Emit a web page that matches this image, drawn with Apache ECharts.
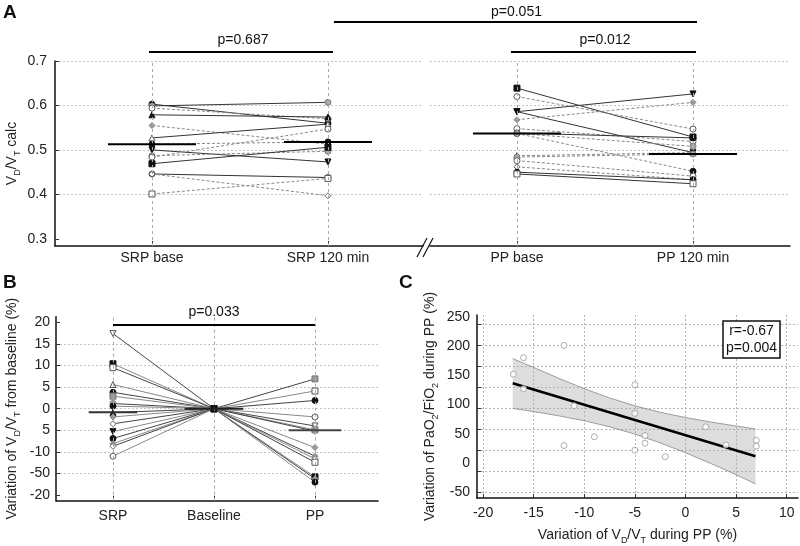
<!DOCTYPE html>
<html><head><meta charset="utf-8">
<script src="https://cdn.jsdelivr.net/npm/echarts@6/dist/echarts.min.js"></script>
<style>html,body{margin:0;padding:0;background:#fff}#c{width:800px;height:546px}</style>
</head><body><div id="c"></div>
<script>
// ---------- Panel A data ----------
const aCategoriesSRP = ['SRP base', 'SRP 120 min'];
const aCategoriesPP = ['PP base', 'PP 120 min'];
const aYLabels = [0.3, 0.4, 0.5, 0.6, 0.7];
const srpBase = [0.603, 0.599, 0.594, 0.579, 0.555, 0.527, 0.513, 0.500, 0.487, 0.484, 0.469, 0.446, 0.446, 0.401];
const srp120  = [0.560, 0.607, 0.570, 0.574, 0.513, 0.558, 0.518, 0.473, 0.497, 0.547, 0.506, 0.438, 0.397, 0.436];
const srpMarkers = ['fc','gc','oc','ft','x','ot','fc','fd','gc','oc','fs','oc','odia','os'];
const srpDashed  = [0,0,1,0,1,0,1,0,1,1,0,0,1,1];
const ppBase = [0.639, 0.620, 0.586, 0.586, 0.568, 0.548, 0.538, 0.537, 0.537, 0.487, 0.484, 0.476, 0.462, 0.450, 0.446];
const pp120  = [0.529, 0.547, 0.626, 0.494, 0.607, 0.519, 0.527, 0.452, 0.508, 0.494, 0.491, 0.441, 0.433, 0.433, 0.424];
const ppMarkers = ['fs','oc','fd','fd','x','oc','fc','fc','gc','ft','gc','oc','odia','fc','os'];
const ppDashed  = [0,1,0,0,1,1,0,1,1,1,1,1,1,0,0];
const aMeansSRP = [0.513, 0.518];
const aMeansPP = [0.537, 0.491];
const aPTexts = ['p=0.687', 'p=0.012', 'p=0.051'];

// ---------- Panel B data ----------
const bCategories = ['SRP', 'Baseline', 'PP'];
const bYTickValues = [-20, -15, -10, -5, 0, 5, 10, 15, 20];
const bYTickLabels = ['-20', '-50', '-10', '5', '0', '5', '10', '15', '20'];
const bSRP = [17.4, 10.4, 9.5, 5.6, 3.8, 2.9, 1.2, 0.6, -0.9, -1.9, -3.5, -5.3, -6.9, -8.1, -8.7, -11.0];
const bSRPMarkers = ['od','fs','os','ot','fc','gs','gc','fc','ft','x','odia','fd','fc','x','odia','oc'];
const bPP = [6.9, 4.1, 1.9, -1.9, -4.0, -4.9, -5.2, -9.0, -11.0, -11.6, -12.4, -15.8, -16.2, -17.0];
const bPPMarkers = ['gs','os','fc','oc','od','gs','x','x','x','odia','os','fs','x','fc'];
const bMeans = [-0.8, 0, -5.0];
const bPText = 'p=0.033';
const bPBarValue = 19.5;

// ---------- Panel C data ----------
const cX = [-12, -16, -17, -16, -11, -5, -5, -9, -12, -4, -4, -5, -2, 2, 4, 7, 7];
const cY = [201, 180, 152, 127, 98, 134, 85, 45, 30, 47, 34, 22, 11, 62, 31, 39, 29];
const cFitX = [-17.07, 6.92];
const cFitY = [136.4, 11.8];
const cBandX = [-17.07, -15, -12.5, -10, -7.5, -5, -2.5, 0, 2.5, 5, 6.92];
const cBandUpper = [178.6, 163.4, 144.7, 127.1, 111.3, 97.8, 86.8, 77.9, 70.2, 63.3, 58.3];
const cBandLower = [93.4, 88.0, 80.7, 72.3, 62.1, 49.6, 34.6, 17.7, -0.6, -19.7, -35.5];
const cXTicks = [-20, -15, -10, -5, 0, 5, 10];
const cYTicks = [-50, 0, 50, 100, 150, 200, 250];
const cGridRowValues = [-50, -14.1, 21.9, 57.8, 93.7, 129.7, 165.6, 201.5, 237.4];
const cStats = ['r=-0.67', 'p=0.004'];
const cXRange = [-20.6, 11.12];
const cYRange = [-59.6, 253];

// ---------- helpers ----------
const FONT = "'Liberation Sans', Arial, sans-serif";
const NARROW = "'Liberation Sans Narrow', 'Liberation Sans', Arial, sans-serif";
const DOWN = 'path://M0,0 L10,0 L5,9 Z';
function marker(kind) {
  const m = {
    fc: ['circle', '#111', '#111'], oc: ['circle', '#fff', '#555'], gc: ['circle', '#aaa', '#777'],
    fs: ['rect', '#111', '#111'], os: ['rect', '#fff', '#555'], gs: ['rect', '#999', '#777'],
    ft: ['triangle', '#111', '#111'], ot: ['triangle', '#fff', '#555'],
    fd: [DOWN, '#111', '#111'], od: [DOWN, '#fff', '#555'],
    x: ['diamond', '#999', '#888'], odia: ['diamond', '#fff', '#666']
  }[kind];
  return { symbol: m[0], itemStyle: { color: m[1], borderColor: m[2], borderWidth: 1 } };
}
function pairSeries(xi, yi, a, b, kind, dashed) {
  const mk = marker(kind);
  return {
    type: 'line', xAxisIndex: xi, yAxisIndex: yi, data: [[0, a], [1, b]],
    symbol: mk.symbol, symbolSize: 6, itemStyle: mk.itemStyle, z: 3,
    lineStyle: dashed ? { color: '#888', width: 1, type: [3, 2] } : { color: '#333', width: 1 },
    silent: true
  };
}
function meanSeries(xi, yi, x, m, half, color) {
  return {
    type: 'line', xAxisIndex: xi, yAxisIndex: yi, data: [[x - half, m], [x + half, m]],
    symbol: 'none', lineStyle: { color: color || '#000', width: 2 }, z: 5, silent: true
  };
}
function refLines(xi, yi, vals) {
  return {
    type: 'line', xAxisIndex: xi, yAxisIndex: yi, data: [], silent: true,
    markLine: {
      silent: true, symbol: ['none', 'none'], label: { show: false },
      lineStyle: { color: '#aaa', width: 1, type: [3, 3] },
      data: vals.map(v => ({ xAxis: v }))
    }
  };
}
const gridStyle = { color: '#c4c4c4', width: 1, type: [2, 2] };
const gridLine = { show: true, lineStyle: gridStyle };
const cGridLine = { show: true, lineStyle: { color: '#b4b4b4', width: 1, type: [2, 2] } };
const sub = { fontSize: 9, verticalAlign: 'bottom' };
const axisLineStyle = { show: true, onZero: false, lineStyle: { color: '#111', width: 1.5 } };

const series = [];
series.push(refLines(0, 0, [0, 1]));
series.push(refLines(1, 1, [0, 1]));
series.push(refLines(2, 2, [0, 1, 2]));

srpBase.forEach((v, i) => series.push(pairSeries(0, 0, v, srp120[i], srpMarkers[i], srpDashed[i])));
ppBase.forEach((v, i) => series.push(pairSeries(1, 1, v, pp120[i], ppMarkers[i], ppDashed[i])));
aMeansSRP.forEach((m, i) => series.push(meanSeries(0, 0, i, m, 0.25)));
aMeansPP.forEach((m, i) => series.push(meanSeries(1, 1, i, m, 0.25)));

// Panel B segments
bSRP.forEach((v, i) => {
  const mk = marker(bSRPMarkers[i]);
  series.push({ type: 'line', xAxisIndex: 2, yAxisIndex: 2, data: [[0, v], [1, 0]], symbol: mk.symbol, symbolSize: 6,
    itemStyle: mk.itemStyle, lineStyle: { color: i % 2 ? '#888' : '#444', width: 1 }, z: 3, silent: true });
});
bPP.forEach((v, i) => {
  const mk = marker(bPPMarkers[i]);
  series.push({ type: 'line', xAxisIndex: 2, yAxisIndex: 2, data: [[1, 0], [2, v]], symbol: mk.symbol, symbolSize: 6,
    itemStyle: mk.itemStyle, lineStyle: { color: i % 2 ? '#888' : '#444', width: 1 }, z: 3, silent: true });
});
series.push(meanSeries(2, 2, 0, bMeans[0], 0.24, '#333'));
series.push(meanSeries(2, 2, 1, bMeans[1], 0.29, '#222'));
series.push(meanSeries(2, 2, 2, bMeans[2], 0.26, '#444'));
series.push({
  type: 'line', xAxisIndex: 2, yAxisIndex: 2, data: [], silent: true,
  markLine: {
    silent: true, symbol: ['none', 'none'],
    lineStyle: { color: '#000', width: 2, type: 'solid' },
    label: { show: true, position: 'middle', formatter: bPText, fontSize: 14, color: '#111', fontFamily: NARROW, distance: 5 },
    data: [[{ coord: [0, bPBarValue] }, { coord: [2, bPBarValue] }]]
  }
});

// Panel C
series.push({
  type: 'custom', xAxisIndex: 3, yAxisIndex: 3, silent: true, z: 1,
  data: cBandX.map((x, i) => [x, cBandLower[i], cBandUpper[i]]),
  encode: { x: 0, y: [1, 2] },
  renderItem: (params, api) => {
    if (params.dataIndex !== 0) return null;
    const pts = [];
    cBandX.forEach((x, i) => pts.push(api.coord([x, cBandUpper[i]])));
    for (let i = cBandX.length - 1; i >= 0; i--) pts.push(api.coord([cBandX[i], cBandLower[i]]));
    return { type: 'polygon', shape: { points: pts }, style: { fill: 'rgba(170,170,170,0.4)', stroke: null } };
  }
});
series.push({ type: 'line', xAxisIndex: 3, yAxisIndex: 3, data: cBandX.map((x, i) => [x, cBandUpper[i]]),
  symbol: 'none', lineStyle: { color: '#888', width: 0.8 }, z: 2, silent: true });
series.push({ type: 'line', xAxisIndex: 3, yAxisIndex: 3, data: cBandX.map((x, i) => [x, cBandLower[i]]),
  symbol: 'none', lineStyle: { color: '#888', width: 0.8 }, z: 2, silent: true });
series.push({ type: 'line', xAxisIndex: 3, yAxisIndex: 3, data: cFitX.map((x, i) => [x, cFitY[i]]),
  symbol: 'none', lineStyle: { color: '#000', width: 2.5 }, z: 4, silent: true });
series.push({ type: 'scatter', xAxisIndex: 3, yAxisIndex: 3, data: cX.map((x, i) => [x, cY[i]]),
  symbol: 'circle', symbolSize: 6, itemStyle: { color: '#fff', borderColor: '#999', borderWidth: 1 }, z: 5, silent: true });

const labelStyle = { fontSize: 14, color: '#222', fontFamily: FONT };
const option = {
  animation: false,
  textStyle: { fontFamily: FONT },
  grid: [
    { left: 55, top: 61, width: 368, height: 185 },
    { left: 430, top: 61, width: 360, height: 185 },
    { left: 56, top: 316.7, width: 322, height: 184 },
    { left: 477, top: 315, width: 321, height: 185.7 }
  ],
  xAxis: [
    { gridIndex: 0, type: 'value', min: -0.551, max: 1.540, splitLine: { show: false },
      axisLine: axisLineStyle,
      axisTick: { inside: true, length: 5, customValues: [0, 1], lineStyle: { color: '#333' } },
      axisLabel: Object.assign({ customValues: [0, 1], formatter: v => aCategoriesSRP[Math.round(v)], margin: 5 }, labelStyle) },
    { gridIndex: 1, type: 'value', min: -0.494, max: 1.551, splitLine: { show: false },
      axisLine: axisLineStyle,
      axisTick: { inside: true, length: 5, customValues: [0, 1], lineStyle: { color: '#333' } },
      axisLabel: Object.assign({ customValues: [0, 1], formatter: v => aCategoriesPP[Math.round(v)], margin: 5 }, labelStyle) },
    { gridIndex: 2, type: 'value', min: -0.564, max: 2.624, splitLine: { show: false },
      axisLine: axisLineStyle,
      axisTick: { inside: true, length: 5, customValues: [0, 1, 2], lineStyle: { color: '#333' } },
      axisLabel: Object.assign({ customValues: [0, 1, 2], formatter: v => bCategories[Math.round(v)], margin: 8 }, labelStyle) },
    { gridIndex: 3, type: 'value', min: cXRange[0], max: cXRange[1],
      splitLine: cGridLine,
      axisLine: axisLineStyle,
      axisTick: { inside: true, length: 4, customValues: cXTicks, lineStyle: { color: '#333' } },
      axisLabel: Object.assign({ customValues: cXTicks, margin: 8 }, labelStyle),
      name: 'Variation of V{s|D}/V{s|T} during PP (%)', nameLocation: 'middle', nameGap: 27,
      nameTextStyle: { fontSize: 14, color: '#222', lineHeight: 20, rich: { s: sub } } }
  ],
  yAxis: [
    { gridIndex: 0, type: 'value', min: 0.284, max: 0.7,
      splitLine: Object.assign({ showMinLine: false }, gridLine),
      axisLine: axisLineStyle,
      axisTick: { show: true, inside: true, length: 4, customValues: aYLabels, lineStyle: { color: '#333' } },
      axisLabel: Object.assign({ customValues: aYLabels, formatter: v => v.toFixed(1), margin: 8 }, labelStyle),
      name: 'V{s|D}/V{s|T} calc', nameLocation: 'middle', nameGap: 33,
      nameTextStyle: { fontSize: 14, color: '#222', lineHeight: 20, rich: { s: sub } } },
    { gridIndex: 1, type: 'value', min: 0.284, max: 0.7,
      splitLine: Object.assign({ showMinLine: false }, gridLine),
      axisLine: { show: false, onZero: false }, axisTick: { show: false, customValues: aYLabels }, axisLabel: { show: false, customValues: aYLabels } },
    { gridIndex: 2, type: 'value', min: -21.3, max: 21.3, splitNumber: 8,
      splitLine: Object.assign({ showMinLine: false, showMaxLine: false }, gridLine),
      axisLine: axisLineStyle,
      axisTick: { show: true, inside: true, length: 4, customValues: bYTickValues, lineStyle: { color: '#333' } },
      axisLabel: Object.assign({ customValues: bYTickValues, formatter: v => bYTickLabels[bYTickValues.indexOf(v)], margin: 6 }, labelStyle),
      name: 'Variation of V{s|D}/V{s|T} from baseline (%)', nameLocation: 'middle', nameGap: 34,
      nameTextStyle: { fontSize: 14, color: '#222', lineHeight: 20, rich: { s: sub } } },
    { gridIndex: 3, type: 'value', min: cYRange[0], max: cYRange[1],
      splitLine: cGridLine,
      axisLine: axisLineStyle,
      axisTick: { show: true, inside: true, length: 4, customValues: cGridRowValues, lineStyle: { color: '#333' } },
      axisLabel: Object.assign({ customValues: cYTicks, margin: 7 }, labelStyle),
      name: 'Variation of PaO{s|2}/FiO{s|2} during PP (%)', nameLocation: 'middle', nameGap: 37,
      nameTextStyle: { fontSize: 14, color: '#222', lineHeight: 20, rich: { s: sub } } }
  ],
  series: series
};

const chart = echarts.init(document.getElementById('c'), null, { renderer: 'canvas' });
chart.setOption(option);

const px = (xi, yi, v) => chart.convertToPixel({ xAxisIndex: xi, yAxisIndex: yi }, v);
const s0 = px(0, 0, [0, 0.5])[0], s1 = px(0, 0, [1, 0.5])[0];
const p0 = px(1, 1, [0, 0.5])[0], p1 = px(1, 1, [1, 0.5])[0];
const pStyle = { fontSize: 14, fill: '#111', fontFamily: NARROW, align: 'center', verticalAlign: 'middle' };
const hline = (x1, x2, y) => ({ type: 'line', shape: { x1: x1, y1: y, x2: x2, y2: y }, style: { stroke: '#000', lineWidth: 2 } });
chart.setOption({
  graphic: [
    { type: 'text', left: 3, top: 3, style: { text: 'A', fontSize: 19, fontWeight: 'bold', fill: '#111', fontFamily: NARROW } },
    { type: 'text', left: 3, top: 273, style: { text: 'B', fontSize: 19, fontWeight: 'bold', fill: '#111', fontFamily: NARROW } },
    { type: 'text', left: 399, top: 273, style: { text: 'C', fontSize: 19, fontWeight: 'bold', fill: '#111', fontFamily: NARROW } },
    hline(s0 - 3, s1 + 5, 52),
    hline(p0 - 6, p1 + 3, 52),
    hline(s1 + 6, p1 + 4, 22),
    { type: 'text', x: (s0 + s1) / 2 + 3, y: 40, style: Object.assign({ text: aPTexts[0] }, pStyle) },
    { type: 'text', x: (p0 + p1) / 2, y: 40, style: Object.assign({ text: aPTexts[1] }, pStyle) },
    { type: 'text', x: (s1 + p1) / 2 + 6, y: 12, style: Object.assign({ text: aPTexts[2] }, pStyle) },
    { type: 'line', shape: { x1: 417, y1: 257, x2: 427, y2: 238 }, style: { stroke: '#111', lineWidth: 1.2 } },
    { type: 'line', shape: { x1: 423, y1: 257, x2: 433, y2: 238 }, style: { stroke: '#111', lineWidth: 1.2 } },
    { type: 'rect', shape: { x: 723, y: 321, width: 57, height: 37 }, style: { fill: '#fff', stroke: '#111', lineWidth: 1.5 }, z: 100 },
    { type: 'text', x: 751.5, y: 331, z: 101, style: Object.assign({}, pStyle, { text: cStats[0], fontFamily: FONT }) },
    { type: 'text', x: 751.5, y: 348, z: 101, style: Object.assign({}, pStyle, { text: cStats[1], fontFamily: FONT }) }
  ]
});
</script>
</body></html>
